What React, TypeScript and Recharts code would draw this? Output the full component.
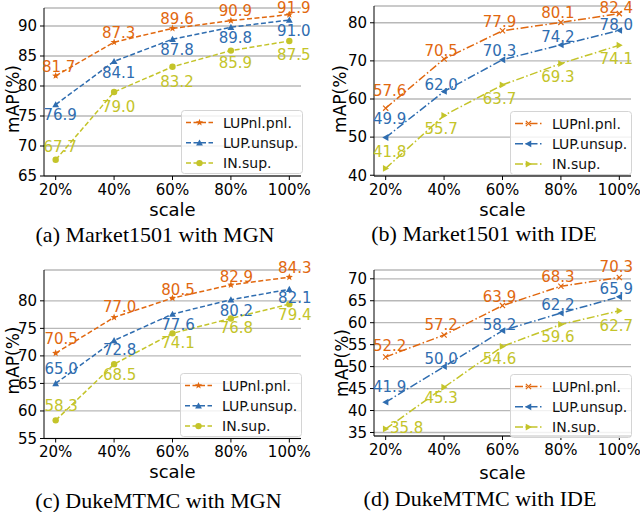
import React from 'react';
import { LineChart, Line, XAxis, YAxis, CartesianGrid, Legend, LabelList } from 'recharts';

const SCALES = [20, 40, 60, 80, 100];
const SERIES_NAMES = ['LUPnl.pnl.', 'LUP.unsup.', 'IN.sup.'];
const COLORS = ['#e1680f', '#2f6db0', '#c4c42a'];

// (a) Market1501 with MGN
const MARKET_MGN_PNL = [81.7, 87.3, 89.6, 90.9, 91.9];
const MARKET_MGN_UNSUP = [76.9, 84.1, 87.8, 89.8, 91.0];
const MARKET_MGN_IN = [67.7, 79.0, 83.2, 85.9, 87.5];
const MARKET_MGN_TICKS = [65, 70, 75, 80, 85, 90];

// (b) Market1501 with IDE
const MARKET_IDE_PNL = [57.6, 70.5, 77.9, 80.1, 82.4];
const MARKET_IDE_UNSUP = [49.9, 62.0, 70.3, 74.2, 78.0];
const MARKET_IDE_IN = [41.8, 55.7, 63.7, 69.3, 74.1];
const MARKET_IDE_TICKS = [40, 50, 60, 70, 80];

// (c) DukeMTMC with MGN
const DUKE_MGN_PNL = [70.5, 77.0, 80.5, 82.9, 84.3];
const DUKE_MGN_UNSUP = [65.0, 72.8, 77.6, 80.2, 82.1];
const DUKE_MGN_IN = [58.3, 68.5, 74.1, 76.8, 79.4];
const DUKE_MGN_TICKS = [55, 60, 65, 70, 75, 80];

// (d) DukeMTMC with IDE
const DUKE_IDE_PNL = [52.2, 57.2, 63.9, 68.3, 70.3];
const DUKE_IDE_UNSUP = [41.9, 50.0, 58.2, 62.2, 65.9];
const DUKE_IDE_IN = [35.8, 45.3, 54.6, 59.6, 62.7];
const DUKE_IDE_TICKS = [35, 40, 45, 50, 55, 60, 65, 70];

const W = 320;
const H = 256;
const FONT = 'DejaVu Sans, sans-serif';
const KEYS = ['pnl', 'unsup', 'sup'];

type MarkerKind = 'star' | 'up' | 'circle' | 'x' | 'left' | 'right';

function marker(kind: MarkerKind, cx: number, cy: number, color: string, key?: any) {
  if (kind === 'circle') return <circle key={key} cx={cx} cy={cy} r={3.2} fill={color} />;
  if (kind === 'x')
    return (
      <path key={key} d={`M${cx - 2.6},${cy - 2.6}L${cx + 2.6},${cy + 2.6}M${cx - 2.6},${cy + 2.6}L${cx + 2.6},${cy - 2.6}`} stroke={color} strokeWidth={1.2} />
    );
  if (kind === 'star') {
    let d = '';
    for (let i = 0; i < 10; i++) {
      const r = i % 2 === 0 ? 3.8 : 1.6;
      const a = -Math.PI / 2 + (i * Math.PI) / 5;
      d += `${i === 0 ? 'M' : 'L'}${cx + r * Math.cos(a)},${cy + r * Math.sin(a)}`;
    }
    return <path key={key} d={d + 'Z'} fill={color} />;
  }
  const s = 3.4;
  let pts = '';
  if (kind === 'up') pts = `${cx},${cy - s} ${cx - s},${cy + s * 0.8} ${cx + s},${cy + s * 0.8}`;
  if (kind === 'left') pts = `${cx - s},${cy} ${cx + s * 0.8},${cy - s} ${cx + s * 0.8},${cy + s}`;
  if (kind === 'right') pts = `${cx + s},${cy} ${cx - s * 0.8},${cy - s} ${cx - s * 0.8},${cy + s}`;
  return <polygon key={key} points={pts} fill={color} />;
}

interface PanelCfg {
  caption: string;
  series: number[][];
  yDomain: [number, number];
  yTicks: number[];
  box: { l: number; r: number; t: number; b: number };
  dash: string;
  markers: MarkerKind[];
  labelDx: number[][];
  labelDy: number[][];
  legend: { x: number; y: number };
  yLabel: { x: number; y: number };
  xLabelY: number;
  captionX: number;
  captionY: number;
}

const DASHED = '5 2.5';
const DASHDOT = '8 2.5 1.5 2.5';

const PANELS: PanelCfg[] = [
  {
    caption: '(a) Market1501 with MGN',
    series: [MARKET_MGN_PNL, MARKET_MGN_UNSUP, MARKET_MGN_IN],
    yDomain: [65, 93],
    yTicks: MARKET_MGN_TICKS,
    box: { l: 44, r: 301, t: 8, b: 176 },
    dash: DASHED,
    markers: ['star', 'up', 'circle'],
    labelDx: [[3, 4.5, 4.5, 4.5, 4.5], [4.5, 4.5, 4.5, 4.5, 4.5], [4.5, 4.5, 4.5, 4.5, 4.5]],
    labelDy: [[-4, -4, -4, -5, -2], [15, 17, 16, 16, 16], [-8, 20, 20, 17, 19]],
    legend: { x: 181, y: 110 },
    yLabel: { x: 12.5, y: 99 },
    xLabelY: 216,
    captionX: 155,
    captionY: 242,
  },
  {
    caption: '(b) Market1501 with IDE',
    series: [MARKET_IDE_PNL, MARKET_IDE_UNSUP, MARKET_IDE_IN],
    yDomain: [39.8, 84.4],
    yTicks: MARKET_IDE_TICKS,
    box: { l: 54, r: 311, t: 6, b: 176 },
    dash: DASHDOT,
    markers: ['x', 'left', 'right'],
    labelDx: [[4, -3, -3, -3, -3], [4, -3, -3, -3, -3], [4, -3, -3, -3, -3]],
    labelDy: [[-12, -3, -4, -4.5, -1], [-14, -1, -4, -3, -0.5], [-11, 19, 19, 18, 19]],
    legend: { x: 190, y: 111 },
    yLabel: { x: 19.5, y: 99 },
    xLabelY: 216,
    captionX: 164,
    captionY: 241,
  },
  {
    caption: '(c) DukeMTMC with MGN',
    series: [DUKE_MGN_PNL, DUKE_MGN_UNSUP, DUKE_MGN_IN],
    yDomain: [55, 85.6],
    yTicks: DUKE_MGN_TICKS,
    box: { l: 44, r: 301, t: 14, b: 182.5 },
    dash: DASHED,
    markers: ['star', 'up', 'circle'],
    labelDx: [[5.5, 5.5, 5.5, 5.5, 5.5], [5.5, 5.5, 5.5, 5.5, 5.5], [5.5, 5.5, 5.5, 5.5, 5.5]],
    labelDy: [[-9, -5, -3.5, -3, -4.5], [-9.5, 15, 16, 16, 14], [-9, 16, 15, 15, 16]],
    legend: { x: 180, y: 117 },
    yLabel: { x: 12.5, y: 104.5 },
    xLabelY: 221.5,
    captionX: 158.5,
    captionY: 251.5,
  },
  {
    caption: '(d) DukeMTMC with IDE',
    series: [DUKE_IDE_PNL, DUKE_IDE_UNSUP, DUKE_IDE_IN],
    yDomain: [34.2, 72],
    yTicks: DUKE_IDE_TICKS,
    box: { l: 54, r: 311, t: 14, b: 180 },
    dash: DASHDOT,
    markers: ['x', 'left', 'right'],
    labelDx: [[4, -3, -3, -3, -3], [4, -3, -3, -3, -3], [21, -3, -3, -3, -3]],
    labelDy: [[-6, -4.5, -4, -4, -5], [-10, -3, -1, -3, -3], [4, 16, 18, 18, 20]],
    legend: { x: 190, y: 118 },
    yLabel: { x: 21.5, y: 107 },
    xLabelY: 223,
    captionX: 160,
    captionY: 250,
  },
];

function LegendBox({ dash, markers }: { dash: string; markers: MarkerKind[] }) {
  return (
    <svg width={122} height={64} style={{ display: 'block' }}>
      <rect x={0.5} y={0.5} width={121} height={63} rx={3} fill="#fff" fillOpacity={0.8} stroke="#d4d4d4" />
      {SERIES_NAMES.map((name, i) => {
        const cy = 12.5 + i * 20.3;
        return (
          <g key={name}>
            <line x1={5} x2={32} y1={cy} y2={cy} stroke={COLORS[i]} strokeWidth={1.5} strokeDasharray={dash} />
            {marker(markers[i], 18.5, cy, COLORS[i])}
            <text x={42} y={cy + 5} fontSize={14} fontFamily={FONT} fill="#111">
              {name}
            </text>
          </g>
        );
      })}
    </svg>
  );
}

function Panel({ cfg }: { cfg: PanelCfg }) {
  const rows = SCALES.map((s, i) => ({
    scale: s,
    pnl: cfg.series[0][i],
    unsup: cfg.series[1][i],
    sup: cfg.series[2][i],
  }));
  const { box } = cfg;
  const tick = { fontSize: 15, fill: '#000', fontFamily: FONT };
  return (
    <div style={{ position: 'relative', width: W, height: H }}>
      <LineChart width={W} height={H} data={rows} margin={{ top: box.t, right: W - box.r, left: 0, bottom: 0 }}>
        <CartesianGrid vertical={false} stroke="#b8b8b8" strokeWidth={1.3} />
        <XAxis
          dataKey="scale"
          type="number"
          domain={[16, 104]}
          ticks={SCALES}
          tickFormatter={(v: number) => `${v}%`}
          height={H - box.b}
          stroke="#000"
          tick={tick}
          tickSize={4}
          tickMargin={4}
          interval={0}
        />
        <YAxis
          type="number"
          domain={cfg.yDomain}
          ticks={cfg.yTicks}
          allowDataOverflow
          width={box.l}
          stroke="#000"
          tick={tick}
          tickSize={4}
          tickMargin={3}
          interval={0}
        />
        {KEYS.map((k, i) => (
          <Line
            key={k}
            dataKey={k}
            type="linear"
            stroke={COLORS[i]}
            strokeWidth={1.5}
            strokeDasharray={cfg.dash}
            dot={(p: any) => marker(cfg.markers[i], p.cx, p.cy, COLORS[i], `${k}-${p.index}`)}
            activeDot={false}
            isAnimationActive={false}
          >
            <LabelList
              dataKey={k}
              content={(p: any) => (
                <text
                  x={p.x + cfg.labelDx[i][p.index]}
                  y={p.y + cfg.labelDy[i][p.index]}
                  textAnchor="middle"
                  fontSize={15}
                  fontFamily={FONT}
                  fill={COLORS[i]}
                >
                  {Number(p.value).toFixed(1)}
                </text>
              )}
            />
          </Line>
        ))}
        <Legend
          layout="vertical"
          align="center"
          verticalAlign="middle"
          wrapperStyle={{ left: cfg.legend.x, top: cfg.legend.y, width: 122, height: 64 }}
          content={() => <LegendBox dash={cfg.dash} markers={cfg.markers} />}
        />
      </LineChart>
      <svg width={W} height={H} style={{ position: 'absolute', left: 0, top: 0, pointerEvents: 'none' }}>
        <text
          x={cfg.yLabel.x}
          y={cfg.yLabel.y}
          transform={`rotate(-90 ${cfg.yLabel.x} ${cfg.yLabel.y})`}
          textAnchor="middle"
          dominantBaseline="central"
          fontSize={17}
          fontFamily={FONT}
          fill="#000"
        >
          mAP(%)
        </text>
        <text x={(box.l + box.r) / 2} y={cfg.xLabelY} textAnchor="middle" fontSize={18} fontFamily={FONT} fill="#000">
          scale
        </text>
        <text x={cfg.captionX} y={cfg.captionY} textAnchor="middle" fontSize={22} fontFamily="Liberation Serif, Times New Roman, serif" fill="#000">
          {cfg.caption}
        </text>
      </svg>
    </div>
  );
}

export default function App() {
  return (
    <div
      style={{
        position: 'absolute',
        left: 0,
        top: 0,
        width: 640,
        height: 512,
        background: '#fff',
        display: 'grid',
        gridTemplateColumns: '320px 320px',
        gridTemplateRows: '256px 256px',
        overflow: 'hidden',
      }}
    >
      {PANELS.map((cfg) => (
        <Panel key={cfg.caption} cfg={cfg} />
      ))}
    </div>
  );
}
